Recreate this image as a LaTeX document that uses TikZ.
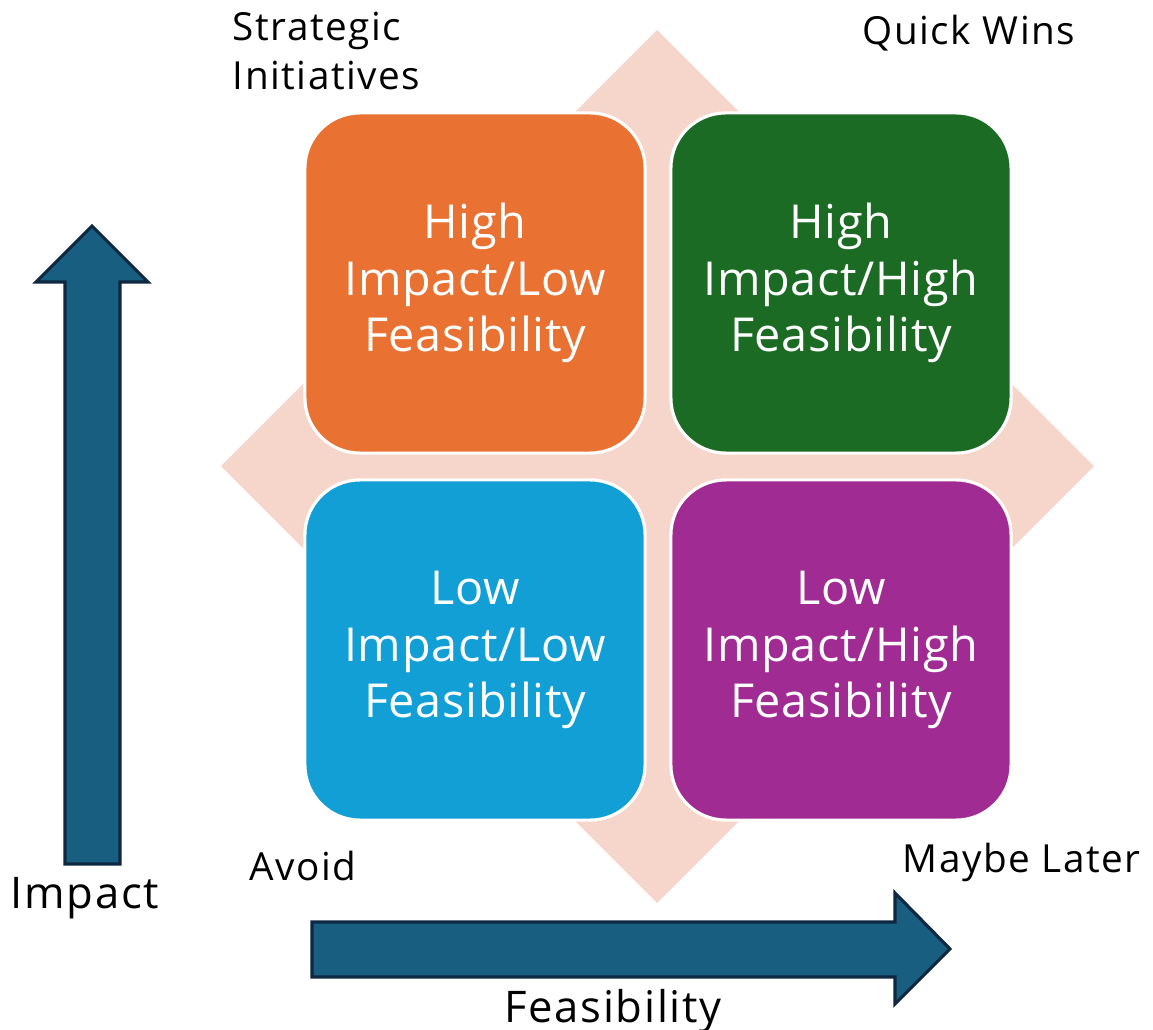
\documentclass[tikz,border=0pt]{standalone}
\usepackage{fontspec}
\setmainfont{Open Sans}
\newfontfamily\spacedfont[LetterSpace=4]{Open Sans}
\newfontfamily\quadfont[LetterSpace=1.5]{Open Sans}
\definecolor{diamondpink}{HTML}{F6D5CB}
\definecolor{quadorange}{HTML}{E97132}
\definecolor{quadgreen}{HTML}{1B6B24}
\definecolor{quadblue}{HTML}{119FD6}
\definecolor{quadpurple}{HTML}{A02B93}
\definecolor{axisblue}{HTML}{175E80}
\definecolor{axisdark}{HTML}{0E2841}
\tikzset{
  quad/.style={draw=white, line width=0.9pt, rounded corners=0.55cm,
    minimum width=3.4cm, minimum height=3.4cm, text=white, align=center,
    font=\quadfont\fontsize{13.3}{16}\selectfont},
  axisarrow/.style={fill=axisblue, draw=axisdark, line width=0.9pt},
  corner/.style={align=left, font=\spacedfont\fontsize{11}{13.9}\selectfont, inner sep=0pt},
  axislabel/.style={font=\spacedfont\fontsize{12.4}{14}\selectfont, inner sep=0pt}
}
\begin{document}
\begin{tikzpicture}[x=0.01cm,y=-0.01cm]
\useasboundingbox (0,0) rectangle (1153,1030);

% background diamond
\fill[diamondpink] (657,30) -- (1094,466) -- (657,903) -- (221,466) -- cycle;

% quadrants
\node[quad, fill=quadorange] (hilo) at (475,283) {High\\Impact/Low\\Feasibility};
\node[quad, fill=quadgreen] (hihi) at (841,283) {High\\Impact/High\\Feasibility};
\node[quad, fill=quadblue] (lolo) at (475,650) {Low\\Impact/Low\\Feasibility};
\node[quad, fill=quadpurple] (lohi) at (841,650) {Low\\Impact/High\\Feasibility};

% axes
\draw[axisarrow] (65,864) -- (65,282) -- (36,282) -- (92,226) -- (148,282)
  -- (120,282) -- (120,864) -- cycle;
\draw[axisarrow] (312,922) -- (895,922) -- (895,893) -- (950,949) -- (895,1004)
  -- (895,977) -- (312,977) -- cycle;

% labels
\node[corner, anchor=west] (strat) at (232,51) {Strategic\\Initiatives};
\node[corner, anchor=west] (quick) at (862,33) {Quick Wins};
\node[corner, anchor=west] (avoid) at (249,866) {Avoid};
\node[corner, anchor=west] (later) at (902,862) {Maybe Later};
\node[axislabel, anchor=west] (imp) at (10,898) {Impact};
\node[axislabel] (feas) at (613,1011) {Feasibility};
\end{tikzpicture}
\end{document}
